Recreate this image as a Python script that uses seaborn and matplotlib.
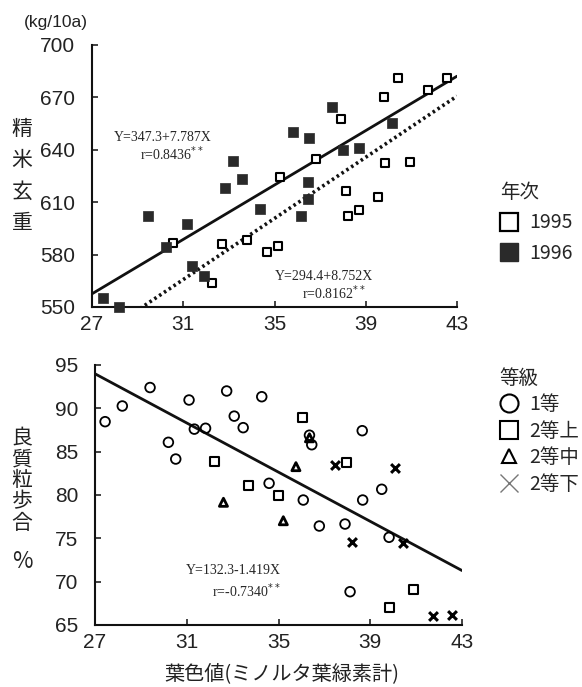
import matplotlib
matplotlib.use("Agg")
import matplotlib.pyplot as plt
import seaborn as sns
import numpy as np
from matplotlib.lines import Line2D

# --- data ---
# top panel: leaf colour value vs. brown rice yield (kg/10a)
x_1995 = [30.57, 32.28, 32.69, 33.79, 34.68, 35.16, 35.22, 36.82, 37.91, 38.14,
          38.24, 38.71, 39.53, 39.82, 39.85, 40.41, 40.92, 41.75, 42.55]
y_1995 = [586.8, 564.0, 586.0, 588.4, 581.5, 585.0, 624.3, 634.7, 657.6, 616.6,
          602.1, 605.5, 613.2, 670.0, 632.3, 681.3, 632.8, 674.2, 681.3]
x_1996 = [27.47, 28.2, 29.47, 30.25, 31.15, 31.4, 31.9, 32.83, 33.17, 33.57,
          34.37, 35.83, 36.53, 37.51, 38.02, 38.71, 40.14, 36.46, 36.46, 36.17]
y_1996 = [555.0, 550.0, 602.3, 584.5, 597.7, 573.5, 568.0, 618.0, 633.8, 623.1,
          606.0, 650.2, 646.8, 664.3, 639.9, 640.9, 655.5, 621.7, 611.6, 602.3]
year_labels = ["1995", "1996"]
fit_1996 = (347.3, 7.787)   # solid line
fit_1995 = (294.4, 8.752)   # dotted line

# bottom panel: leaf colour value vs. good-grain ratio (%)
x_g1 = [27.44, 28.19, 29.4, 30.2, 30.52, 31.1, 31.33, 31.82, 32.74, 33.07, 33.46,
        34.27, 34.59, 36.35, 36.45, 38.65, 36.08, 39.5, 38.67, 36.78, 37.9, 39.82, 38.12]
y_g1 = [88.46, 90.27, 92.4, 86.08, 84.15, 90.96, 87.6, 87.7, 92.0, 89.1, 87.77,
        91.34, 81.35, 86.9, 85.8, 87.42, 79.42, 80.66, 79.42, 76.42, 76.65, 75.12, 68.84]
x_g2u = [32.2, 33.71, 35.02, 36.04, 37.97, 40.9, 39.83]
y_g2u = [83.92, 81.04, 79.9, 88.92, 83.73, 69.15, 67.04]
x_g2m = [32.6, 35.21, 35.76, 36.35]
y_g2m = [79.16, 77.03, 83.27, 86.6]
x_g2l = [37.46, 40.08, 38.19, 40.41, 41.75, 42.55]
y_g2l = [83.46, 83.07, 74.61, 74.5, 66.04, 66.15]
grade_labels = ["1等", "2等上", "2等中", "2等下"]
fit_grade = (132.3, -1.419)

x_ticks = [27, 31, 35, 39, 43]
y_ticks_top = [550, 580, 610, 640, 670, 700]
y_ticks_bot = [65, 70, 75, 80, 85, 90, 95]

sns.set_style("ticks")
plt.rcParams["font.family"] = ["Liberation Sans Narrow", "Liberation Sans", "Noto Sans CJK JP", "DejaVu Sans"]
cjk = ["Noto Sans CJK JP", "DejaVu Sans"]
serif = ["Liberation Serif", "DejaVu Serif"]

fig = plt.figure(figsize=(5.82, 6.87), dpi=100)
W, H = 582, 687
ax1 = fig.add_axes([92 / W, 1 - 307 / H, 365 / W, 262 / H])
ax2 = fig.add_axes([95 / W, 1 - 625 / H, 367 / W, 260 / H])

# ---- top panel ----
sns.scatterplot(x=x_1995, y=y_1995, marker="s", s=38, fc="white", ec="black",
                linewidth=1.5, ax=ax1, clip_on=False, zorder=3)
sns.scatterplot(x=x_1996, y=y_1996, marker="s", s=48, fc="#2a2a2a", ec="#2a2a2a",
                linewidth=0.5, ax=ax1, clip_on=False, zorder=3)
xl = np.array([27, 43])
sns.lineplot(x=xl, y=fit_1996[0] + fit_1996[1] * xl, color="#111111", lw=2.0, ax=ax1)
sns.lineplot(x=xl, y=fit_1995[0] + fit_1995[1] * xl, color="#111111", lw=2.6,
             linestyle=(0, (0.7, 0.9)), ax=ax1)
ax1.set_xlim(27, 43)
ax1.set_ylim(550, 700)
ax1.set_yticks(y_ticks_top)
ax1.text(30.1, 646.8, "Y=347.3+7.787X", family=serif, fontsize=10, ha="center", va="center")
ax1.text(30.5, 638.0, r"r=0.8436$^{**}$", family=serif, fontsize=10, ha="center", va="center")
ax1.text(37.15, 567.2, "Y=294.4+8.752X", family=serif, fontsize=10, ha="center", va="center")
ax1.text(37.6, 558.4, r"r=0.8162$^{**}$", family=serif, fontsize=10, ha="center", va="center")

# ---- bottom panel ----
sns.scatterplot(x=x_g1, y=y_g1, marker="o", s=48, fc="none", ec="black",
                linewidth=1.3, ax=ax2, clip_on=False, zorder=3)
sns.scatterplot(x=x_g2u, y=y_g2u, marker="s", s=42, fc="none", ec="black",
                linewidth=1.5, ax=ax2, clip_on=False, zorder=3)
sns.scatterplot(x=x_g2m, y=y_g2m, marker="^", s=34, fc="none", ec="black",
                linewidth=2.0, ax=ax2, clip_on=False, zorder=3)
sns.scatterplot(x=x_g2l, y=y_g2l, marker="x", s=40, color="black",
                linewidth=2.2, ax=ax2, clip_on=False, zorder=3)
sns.lineplot(x=xl, y=fit_grade[0] + fit_grade[1] * xl, color="#111111", lw=2.0, ax=ax2)
ax2.set_xlim(27, 43)
ax2.set_ylim(65, 95)
ax2.set_yticks(y_ticks_bot)
ax2.text(35.1, 71.3, "Y=132.3-1.419X", family=serif, fontsize=10, ha="right", va="center")
ax2.text(35.1, 69.0, r"r=-0.7340$^{**}$", family=serif, fontsize=10, ha="right", va="center")

for ax in (ax1, ax2):
    ax.set_xticks(x_ticks)
    sns.despine(ax=ax)
    for sp in ("left", "bottom"):
        ax.spines[sp].set_linewidth(1.5)
        ax.spines[sp].set_color("#111111")
    ax.tick_params(direction="in", length=4, width=1.2, labelsize=15, colors="#222222")
    ax.tick_params(axis="y", pad=12)
    ax.tick_params(axis="x", pad=6)
    ax.set_xlabel("")
    ax.set_ylabel("")

# ---- labels ----
fig.text(56 / W, 1 - 22 / H, "(kg/10a)", fontsize=12.5, ha="center", va="center", color="#222222")
fig.text(22 / W, 1 - 176 / H, "精\n米\n玄\n重", family=cjk, fontsize=15,
         ha="center", va="center", linespacing=1.55, color="#222222")
fig.text(22 / W, 1 - 427 / H, "良\n質\n粒\n歩\n合", family=cjk, fontsize=15,
         ha="center", va="top", linespacing=0.95, color="#222222")
fig.text(22 / W, 1 - 561 / H, "%", family=cjk, fontsize=16, ha="center", va="center",
         color="#222222")
fig.text(282 / W, 1 - 674 / H, "葉色値(ミノルタ葉緑素計)", family=cjk, fontsize=14.5,
         ha="center", va="center", color="#222222")

# ---- legends ----
h_year = [Line2D([], [], ls="", marker="s", ms=13, mfc="white", mec="black", mew=1.6),
          Line2D([], [], ls="", marker="s", ms=13, mfc="#2a2a2a", mec="#2a2a2a")]
leg1 = fig.legend(h_year, year_labels, title="年次", loc="upper left",
                  bbox_to_anchor=(490 / W, 1 - 172 / H), frameon=False,
                  prop={"family": cjk, "size": 14}, title_fontproperties={"family": cjk, "size": 14},
                  handlelength=1.0, handletextpad=0.5, labelspacing=0.5, borderpad=0)
leg1._legend_box.align = "left"

h_grade = [Line2D([], [], ls="", marker="o", ms=13, mfc="none", mec="black", mew=1.5),
           Line2D([], [], ls="", marker="s", ms=13, mfc="none", mec="black", mew=1.5),
           Line2D([], [], ls="", marker="^", ms=10, mfc="none", mec="black", mew=1.5),
           Line2D([], [], ls="", marker="x", ms=13, color="#777777", mew=1.0)]
leg2 = fig.legend(h_grade, grade_labels, title="等級", loc="upper left",
                  bbox_to_anchor=(490 / W, 1 - 358 / H), frameon=False,
                  prop={"family": cjk, "size": 14}, title_fontproperties={"family": cjk, "size": 14},
                  handlelength=1.0, handletextpad=0.5, labelspacing=0.28, borderpad=0)
leg2._legend_box.align = "left"

plt.savefig("out.png", dpi=100)
